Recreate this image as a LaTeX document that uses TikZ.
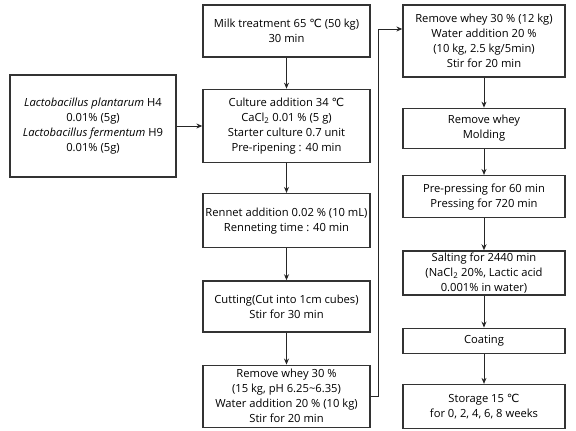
\documentclass[tikz,border=0pt]{standalone}
\usepackage{fontspec}
\setmainfont{Open Sans}
\newfontfamily\degfont{DejaVu Sans}
\newcommand{\degC}{{\degfont\char"2103}}
\usetikzlibrary{arrows.meta,positioning}

\begin{document}
\begin{tikzpicture}[
    x=1pt,y=1pt,
    node distance=30pt,
    block/.style={
        rectangle,
        draw=black!80,
        line width=1.3pt,
        minimum width=167pt,
        align=center,
        inner sep=1pt,
        font=\fontsize{11.2}{15}\selectfont
    },
    arrow/.style={-{Stealth[length=6pt,width=5pt]},line width=1pt,draw=black!85}
]
    \useasboundingbox (0,0) rectangle (576,-431);

    % Nodes, middle column
    \node[block,minimum height=52pt] (milk) at (286.5,-31) {Milk treatment 65 \degC{} (50 kg)\\30 min};
    \node[block,minimum height=73pt,below=31pt of milk] (culture) {Culture addition 34 \degC\\CaCl\textsubscript{2} 0.01 \% (5 g)\\Starter culture 0.7 unit\\Pre-ripening : 40 min};
    \node[block,minimum height=54pt,below=30pt of culture] (rennet) {Rennet addition 0.02 \% (10 mL)\\Renneting time : 40 min};
    \node[block,minimum height=51pt,below=32pt of rennet] (cutting) {Cutting(Cut into 1cm cubes)\\Stir for 30 min};
    \node[block,minimum height=62pt,below=32pt of cutting] (whey1) {Remove whey 30 \%\\(15 kg, pH 6.25\textasciitilde 6.35)\\Water addition 20 \% (10 kg)\\Stir for 20 min};

    % Nodes, starter strains
    \node[block,minimum width=166pt,minimum height=102pt] (strain) at (93,-126) {\textit{Lactobacillus plantarum} H4\\0.01\% (5g)\\\textit{Lactobacillus fermentum} H9\\0.01\% (5g)};

    % Nodes, right column
    \node[block,minimum width=162pt,minimum height=72pt] (whey2) at (484,-41) {Remove whey 30 \% (12 kg)\\Water addition 20 \%\\(10 kg, 2.5 kg/5min)\\Stir for 20 min};
    \node[block,minimum width=162pt,minimum height=40pt,below=30pt of whey2] (molding) {Remove whey\\Molding};
    \node[block,minimum width=162pt,minimum height=42pt,below=26pt of molding] (pressing) {Pre-pressing for 60 min\\Pressing for 720 min};
    \node[block,minimum width=162pt,minimum height=44pt,below=32pt of pressing] (salting) {Salting for 2440 min\\(NaCl\textsubscript{2} 20\%, Lactic acid\\0.001\% in water)};
    \node[block,minimum width=162pt,minimum height=25pt,below=32pt of salting] (coating) {Coating};
    \node[block,minimum width=162pt,minimum height=44pt,below=30pt of coating] (storage) {Storage 15 \degC\\for 0, 2, 4, 6, 8 weeks};

    % Arrows
    \draw[arrow] (milk) -- (culture);
    \draw[arrow] (culture) -- (rennet);
    \draw[arrow] (rennet) -- (cutting);
    \draw[arrow] (cutting) -- (whey1);
    \draw[arrow] (strain.east) -- (strain.east -| culture.west);
    \coordinate[right=8pt of whey1.east] (turn);
    \draw[arrow] (whey1.east) -- (turn) |- ([yshift=12pt]whey2.west);
    \draw[arrow] (whey2) -- (molding);
    \draw[arrow] (molding) -- (pressing);
    \draw[arrow] (pressing) -- (salting);
    \draw[arrow] (salting) -- (coating);
    \draw[arrow] (coating) -- (storage);
\end{tikzpicture}
\end{document}
